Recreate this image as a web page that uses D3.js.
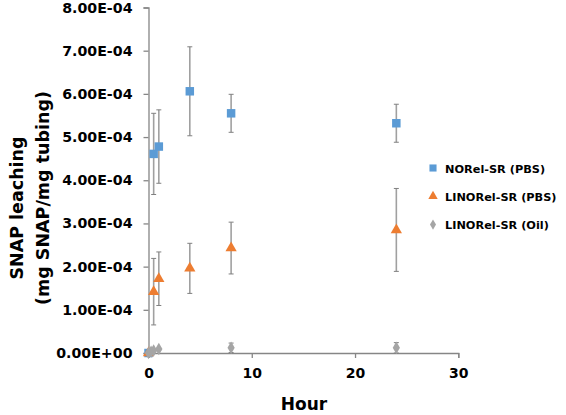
<!DOCTYPE html>
<html><head><meta charset="utf-8">
<script src="https://cdn.jsdelivr.net/npm/d3@7"></script>
<style>body{margin:0;background:#fff}svg{display:block}</style>
</head><body>
<script>
const seriesNames = ["NORel-SR (PBS)", "LINORel-SR (PBS)", "LINORel-SR (Oil)"];
const colors = ["#5B9BD5", "#ED7D31", "#A5A5A5"];
const hours = [0, 0.5, 1, 4, 8, 24];
const noPbs = [0, 4.61e-4, 4.78e-4, 6.06e-4, 5.55e-4, 5.32e-4];
const noPbsErr = [0, 0.94e-4, 0.85e-4, 1.03e-4, 0.44e-4, 0.44e-4];
const linoPbs = [0, 1.42e-4, 1.72e-4, 1.96e-4, 2.43e-4, 2.85e-4];
const linoPbsErr = [0, 0.77e-4, 0.62e-4, 0.58e-4, 0.60e-4, 0.96e-4];
const oilHours = [0, 0.25, 0.5, 1, 8, 24];
const linoOil = [0, 0.03e-4, 0.06e-4, 0.09e-4, 0.12e-4, 0.12e-4];
const linoOilErr = [0, 0.02e-4, 0.02e-4, 0.02e-4, 0.11e-4, 0.12e-4];
const yTicks = [0, 1e-4, 2e-4, 3e-4, 4e-4, 5e-4, 6e-4, 7e-4, 8e-4];
const xTicks = [0, 10, 20, 30];

const W = 566, H = 415;
const svg = d3.select("body").append("svg").attr("width", W).attr("height", H);
const x = d3.scaleLinear().domain([0, 30]).range([148.5, 458.3]);
const y = d3.scaleLinear().domain([0, 8e-4]).range([353, 7.5]);
const font = "'DejaVu Sans', sans-serif";
const axisColor = "#868686";

const yAxis = svg.append("g").attr("transform", `translate(${x(0)},0)`)
  .call(d3.axisLeft(y).tickValues(yTicks).tickSize(5).tickPadding(11)
    .tickFormat(d => d.toExponential(2).toUpperCase().replace(/E([+-])(\d)$/, "E$10$2")));
const xAxis = svg.append("g").attr("transform", `translate(0,${y(0)})`)
  .call(d3.axisBottom(x).tickValues(xTicks).tickSize(5).tickPadding(10));
[yAxis, xAxis].forEach(g => {
  g.select(".domain").attr("stroke", axisColor).attr("stroke-width", 1.3);
  g.selectAll(".tick line").attr("stroke", axisColor).attr("stroke-width", 1.3);
  g.selectAll("text").attr("fill", "#000").attr("font-family", font)
    .attr("font-weight", "bold").attr("font-size", 14.2);
});
xAxis.selectAll("text").attr("font-size", 14);

// axis titles
svg.append("text").attr("transform", "translate(23,208) rotate(-90)")
  .attr("text-anchor", "middle").attr("font-family", font).attr("font-weight", "bold")
  .attr("font-size", 17.5).text("SNAP leaching");
svg.append("text").attr("transform", "translate(49,198) rotate(-90)")
  .attr("text-anchor", "middle").attr("font-family", font).attr("font-weight", "bold")
  .attr("font-size", 17.5).text("(mg SNAP/mg tubing)");
svg.append("text").attr("x", 304).attr("y", 410)
  .attr("text-anchor", "middle").attr("font-family", font).attr("font-weight", "bold")
  .attr("font-size", 17).text("Hour");

const series = [
  {h: hours, v: noPbs, e: noPbsErr, c: colors[0], sym: d3.symbolSquare, size: 72},
  {h: hours, v: linoPbs, e: linoPbsErr, c: colors[1], sym: d3.symbolTriangle, size: 55},
  {h: oilHours, v: linoOil, e: linoOilErr, c: colors[2], sym: d3.symbolDiamond, size: 45}
];
const errColor = "#A0A0A0";
series.forEach(s => {
  const g = svg.append("g");
  s.v.forEach((v, i) => {
    if (s.e[i] > 0) {
      const cx = x(s.h[i]);
      g.append("line").attr("x1", cx).attr("x2", cx).attr("y1", y(v + s.e[i])).attr("y2", y(v - s.e[i]))
        .attr("stroke", errColor).attr("stroke-width", 1.6);
      [v + s.e[i], v - s.e[i]].forEach(yy => g.append("line")
        .attr("x1", cx - 2.5).attr("x2", cx + 2.5).attr("y1", y(yy)).attr("y2", y(yy))
        .attr("stroke", "#808080").attr("stroke-width", 1));
    }
  });
  s.v.forEach((v, i) => {
    g.append("path").attr("d", d3.symbol().type(s.sym).size(s.size)())
      .attr("transform", `translate(${x(s.h[i])},${y(v)})`)
      .attr("fill", s.c);
  });
});

// legend
const leg = svg.append("g");
seriesNames.forEach((n, i) => {
  const ly = 168 + i * 28.3;
  leg.append("path").attr("d", d3.symbol().type(series[i].sym).size(series[i].size * 0.7)())
    .attr("transform", `translate(433,${ly})`).attr("fill", series[i].c);
  leg.append("text").attr("x", 445).attr("y", ly + 4.5).attr("font-family", font)
    .attr("font-weight", "bold").attr("font-size", 11.3).text(n);
});
</script>
</body></html>
